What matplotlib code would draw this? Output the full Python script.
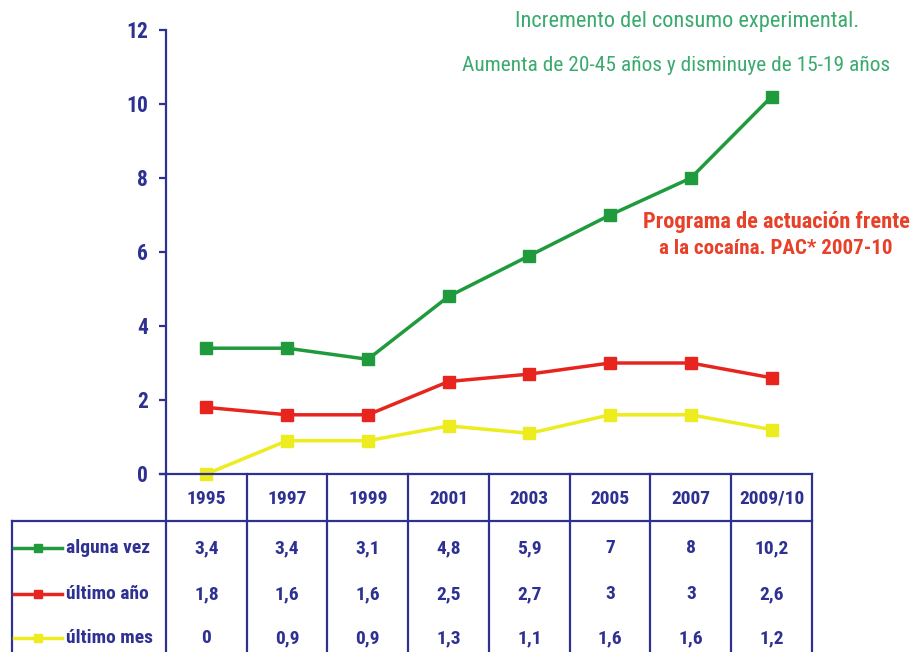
import matplotlib.pyplot as plt
from matplotlib import font_manager
from matplotlib.lines import Line2D

years = ["1995", "1997", "1999", "2001", "2003", "2005", "2007", "2009/10"]
alguna_vez = [3.4, 3.4, 3.1, 4.8, 5.9, 7, 8, 10.2]
ultimo_ano = [1.8, 1.6, 1.6, 2.5, 2.7, 3, 3, 2.6]
ultimo_mes = [0, 0.9, 0.9, 1.3, 1.1, 1.6, 1.6, 1.2]
series_names = ["alguna vez", "último año", "último mes"]
y_ticks = [0, 2, 4, 6, 8, 10, 12]

navy = "#2e3192"
colors = ["#1f9a3c", "#e8241f", "#ecec1e"]

# pick a narrow face if one is around, else Liberation Sans (Arial metrics)
installed = {f.name for f in font_manager.fontManager.ttflist}
narrow = "Liberation Sans"
for cand in ["Liberation Sans Narrow", "Roboto Condensed", "DejaVu Sans Condensed"]:
    if cand in installed:
        narrow = cand
        break
fam = [narrow, "DejaVu Sans"]
small = 12.5 if narrow == "Liberation Sans" else 14

W, H = 912, 652
fig = plt.figure(figsize=(W / 100, H / 100), dpi=100)


def fx(px):
    return px / W


def fy(py):
    return 1 - py / H


def fmt(v):
    return ("%g" % v).replace(".", ",")


# main plot
x0, x1, ytop, ybot = 166, 812, 30, 474
ax = fig.add_axes([fx(x0), fy(ybot), fx(x1 - x0), fy(ytop) - fy(ybot)])
ax.set_xlim(-0.5, len(years) - 0.5)
ax.set_ylim(0, 12)
xs = list(range(len(years)))
for vals, c in zip([alguna_vez, ultimo_ano, ultimo_mes], colors):
    ax.plot(xs, vals, color=c, lw=2.5, marker="s", ms=9, clip_on=False, zorder=3)

for s in ["top", "right", "bottom"]:
    ax.spines[s].set_visible(False)
ax.spines["left"].set_color(navy)
ax.spines["left"].set_linewidth(1.6)
ax.set_xticks([])
ax.set_yticks(y_ticks)
ax.tick_params(axis="y", colors=navy, length=5, width=1.6, pad=8, labelsize=15.5)
for lbl in ax.get_yticklabels():
    lbl.set_fontfamily(fam)
    lbl.set_fontweight("bold")

# table drawn on an overlay axes in pixel coordinates
tab = fig.add_axes([0, 0, 1, 1])
tab.set_xlim(0, W)
tab.set_ylim(H, 0)
tab.axis("off")
colw = (x1 - x0) / len(years)
hdr_bot = 521
row_y = [548, 594, 638]
lw_tab = 1.6

tab.plot([160, x1], [ybot, ybot], color=navy, lw=lw_tab)
tab.plot([12, x1], [hdr_bot, hdr_bot], color=navy, lw=lw_tab)
tab.plot([12, 12], [hdr_bot, H], color=navy, lw=lw_tab)
for i in range(len(years) + 1):
    xb = x0 + i * colw
    tab.plot([xb, xb], [ybot, H], color=navy, lw=lw_tab)

for i, yr in enumerate(years):
    xc = x0 + (i + 0.5) * colw
    tab.text(xc, (ybot + hdr_bot) / 2 + 1, yr, ha="center", va="center",
             color=navy, fontsize=small, fontweight="bold", family=fam)
    for vals, yy in zip([alguna_vez, ultimo_ano, ultimo_mes], row_y):
        tab.text(xc, yy, fmt(vals[i]), ha="center", va="center",
                 color=navy, fontsize=small, fontweight="bold", family=fam)

for name, c, yy in zip(series_names, colors, row_y):
    tab.add_line(Line2D([14, 62], [yy, yy], color=c, lw=2.5))
    tab.add_line(Line2D([38], [yy], color=c, marker="s", ms=6))
    tab.text(66, yy, name, ha="left", va="center", color=navy,
             fontsize=small, fontweight="bold", family=fam)

# annotations, each scaled to the width it has in the original
notes = [
    (687, 22, "Incremento del consumo experimental.", "#3aaa6e", "normal", 345),
    (676, 65, "Aumenta de 20-45 años y disminuye de 15-19 años", "#3aaa6e", "normal", 428),
    (776, 222, "Programa de actuación frente", "#e8412a", "bold", 267),
    (776, 248, "a la cocaína. PAC* 2007-10", "#e8412a", "bold", 234),
]
renderer = fig.canvas.get_renderer()
for x, y, s, c, w, target in notes:
    t = tab.text(x, y, s, ha="center", va="center", color=c, fontsize=15,
                 fontweight=w, family=fam)
    width = t.get_window_extent(renderer).width
    t.set_fontsize(min(17, 15 * target / width))

fig.savefig("out.png", dpi=100)
